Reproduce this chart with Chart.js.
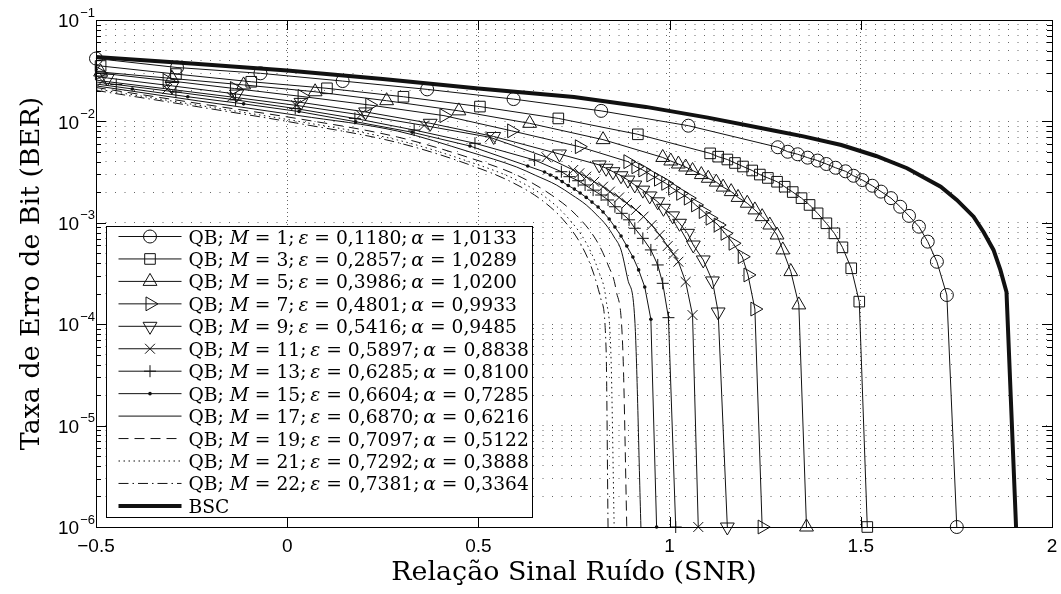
<!DOCTYPE html>
<html>
<head>
<meta charset="utf-8">
<script src="https://cdn.jsdelivr.net/npm/chart.js@4.4.1/dist/chart.umd.min.js"></script>
<style>
  html, body { margin: 0; padding: 0; background: #fff; overflow: hidden; }
</style>
</head>
<body>
<canvas id="berChart" width="1061" height="594"></canvas>
<script>
// BER versus SNR for the QB channel family and the BSC reference

const xTicks = [-0.5, 0, 0.5, 1, 1.5, 2];
const yTickExponents = [-6, -5, -4, -3, -2, -1];
const yMantissas = [1, 2, 3, 4, 5, 6, 7, 8, 9];

const qbM = [1, 3, 5, 7, 9, 11, 13, 15, 17, 19, 21, 22];
const qbEps = ['0,1180', '0,2857', '0,3986', '0,4801', '0,5416', '0,5897', '0,6285', '0,6604', '0,6870', '0,7097', '0,7292', '0,7381'];
const qbAlpha = ['1,0133', '1,0289', '1,0200', '0,9933', '0,9485', '0,8838', '0,8100', '0,7285', '0,6216', '0,5122', '0,3888', '0,3364'];

const snrM1 = [-0.5, -0.288, -0.07, 0.145, 0.366, 0.592, 0.821, 1.049, 1.283, 1.309, 1.335, 1.361, 1.387, 1.41, 1.434, 1.46, 1.481, 1.504, 1.53, 1.553, 1.579, 1.603, 1.626, 1.652, 1.675, 1.699, 1.725, 1.751];
const berM1 = [0.0417, 0.034, 0.0298, 0.025, 0.0207, 0.0166, 0.0127, 0.00907, 0.00556, 0.00502, 0.00474, 0.00439, 0.00411, 0.0038, 0.00349, 0.00322, 0.00291, 0.00264, 0.00232, 0.00203, 0.00175, 0.00144, 0.00117, 0.000916, 0.000652, 0.000413, 0.000194, 0.000001];

const snrM3 = [-0.5, -0.488, -0.291, -0.094, 0.104, 0.304, 0.504, 0.709, 0.917, 1.106, 1.127, 1.151, 1.171, 1.192, 1.216, 1.236, 1.257, 1.281, 1.301, 1.322, 1.345, 1.366, 1.387, 1.41, 1.431, 1.452, 1.475, 1.496, 1.517];
const berM3 = [0.0356, 0.0352, 0.0293, 0.0246, 0.0212, 0.0175, 0.014, 0.0107, 0.00746, 0.00484, 0.00449, 0.00421, 0.00389, 0.00359, 0.00328, 0.00299, 0.00277, 0.00254, 0.00227, 0.00201, 0.00175, 0.0015, 0.00124, 0.000989, 0.000787, 0.000573, 0.000356, 0.000167, 0.000001];

const snrM5 = [-0.5, -0.488, -0.301, -0.114, 0.073, 0.26, 0.449, 0.634, 0.826, 0.982, 1.003, 1.023, 1.042, 1.06, 1.083, 1.101, 1.122, 1.14, 1.161, 1.179, 1.203, 1.223, 1.242, 1.262, 1.281, 1.296, 1.317, 1.338, 1.358];
const berM5 = [0.031, 0.0307, 0.0265, 0.0229, 0.0196, 0.016, 0.0127, 0.00957, 0.00661, 0.00441, 0.00407, 0.0038, 0.00355, 0.00328, 0.00299, 0.00275, 0.00252, 0.00225, 0.00203, 0.00178, 0.00156, 0.00134, 0.00115, 0.000951, 0.000758, 0.00054, 0.00033, 0.000155, 0.000001];

const snrM7 = [-0.5, -0.491, -0.314, -0.138, 0.039, 0.216, 0.41, 0.587, 0.764, 0.891, 0.912, 0.93, 0.951, 0.971, 0.99, 1.008, 1.029, 1.049, 1.068, 1.088, 1.106, 1.127, 1.145, 1.166, 1.19, 1.205, 1.223, 1.242];
const berM7 = [0.0303, 0.03, 0.0253, 0.0211, 0.0176, 0.0145, 0.0114, 0.00807, 0.00563, 0.00401, 0.00357, 0.00332, 0.00296, 0.00269, 0.00245, 0.00219, 0.00195, 0.00175, 0.0015, 0.00129, 0.00111, 0.000951, 0.000787, 0.000628, 0.000463, 0.000306, 0.000141, 0.000001];

const snrM9 = [-0.5, -0.47, -0.301, -0.132, 0.036, 0.205, 0.374, 0.54, 0.712, 0.816, 0.834, 0.852, 0.873, 0.891, 0.909, 0.93, 0.948, 0.969, 0.984, 1.008, 1.026, 1.047, 1.062, 1.088, 1.112, 1.127, 1.151];
const berM9 = [0.0277, 0.0268, 0.0224, 0.0186, 0.0154, 0.0124, 0.00958, 0.0071, 0.00477, 0.00372, 0.00345, 0.00319, 0.00291, 0.00264, 0.00236, 0.0021, 0.00184, 0.00161, 0.00139, 0.00117, 0.000989, 0.000787, 0.000604, 0.00043, 0.000267, 0.000132, 0.000001];

const snrM11 = [-0.5, -0.483, -0.314, -0.145, 0.023, 0.192, 0.358, 0.53, 0.678, 0.748, 0.764, 0.782, 0.803, 0.826, 0.844, 0.868, 0.888, 0.912, 0.932, 0.953, 0.974, 0.995, 1.01, 1.023, 1.042, 1.06, 1.075];
const berM11 = [0.0256, 0.025, 0.0209, 0.0174, 0.0144, 0.0116, 0.00912, 0.00697, 0.00443, 0.00332, 0.00308, 0.00285, 0.00254, 0.00227, 0.00203, 0.00178, 0.00156, 0.00134, 0.00115, 0.000951, 0.000758, 0.00059, 0.000492, 0.000413, 0.000261, 0.000123, 0.000001];

const snrM13 = [-0.5, -0.447, -0.291, -0.135, 0.021, 0.177, 0.332, 0.491, 0.647, 0.717, 0.738, 0.761, 0.779, 0.8, 0.821, 0.839, 0.857, 0.875, 0.894, 0.909, 0.93, 0.951, 0.969, 0.982, 0.997, 1.016];
const berM13 = [0.0245, 0.0231, 0.0195, 0.0163, 0.0134, 0.0107, 0.00822, 0.00608, 0.00416, 0.00319, 0.00285, 0.0026, 0.00236, 0.0021, 0.00188, 0.00168, 0.00144, 0.00124, 0.00107, 0.000883, 0.000703, 0.00054, 0.000384, 0.000253, 0.000116, 0.000001];

const snrM15 = [-0.5, -0.405, -0.26, -0.114, 0.031, 0.179, 0.327, 0.478, 0.629, 0.673, 0.688, 0.704, 0.719, 0.735, 0.751, 0.766, 0.782, 0.797, 0.813, 0.826, 0.842, 0.857, 0.873, 0.888, 0.904, 0.919, 0.935, 0.951, 0.966];
const berM15 = [0.0234, 0.0209, 0.0175, 0.0149, 0.0125, 0.00993, 0.00781, 0.00572, 0.00363, 0.00317, 0.00296, 0.00277, 0.00255, 0.00233, 0.00215, 0.00197, 0.00178, 0.0016, 0.00143, 0.00128, 0.00109, 0.000909, 0.000741, 0.00059, 0.00046, 0.000343, 0.000233, 0.000112, 0.000001];

const snrM17 = [-0.5, -0.231, 0.031, 0.288, 0.478, 0.6, 0.65, 0.704, 0.745, 0.782, 0.81, 0.834, 0.855, 0.873, 0.891, 0.909, 0.925];
const berM17 = [0.0224, 0.0159, 0.0114, 0.00804, 0.00499, 0.00355, 0.00293, 0.00236, 0.00188, 0.0015, 0.00119, 0.000951, 0.000724, 0.00054, 0.000273, 0.00011, 0.000001];

const snrM19 = [-0.5, -0.231, 0.031, 0.288, 0.478, 0.6, 0.691, 0.756, 0.808, 0.839, 0.86, 0.878, 0.888];
const berM19 = [0.0216, 0.015, 0.0106, 0.00702, 0.00436, 0.00296, 0.00188, 0.00119, 0.000676, 0.000384, 0.000217, 0.000052, 0.000001];

const snrM21 = [-0.5, -0.231, 0.031, 0.288, 0.478, 0.6, 0.678, 0.735, 0.782, 0.813, 0.834, 0.847, 0.855];
const berM21 = [0.0209, 0.0144, 0.00998, 0.00656, 0.00398, 0.00264, 0.00176, 0.00111, 0.000632, 0.000343, 0.000173, 0.0000444, 0.000001];

const snrM22 = [-0.5, -0.231, 0.031, 0.288, 0.478, 0.587, 0.665, 0.722, 0.769, 0.8, 0.821, 0.834, 0.839];
const berM22 = [0.0202, 0.0139, 0.00953, 0.00619, 0.00372, 0.00252, 0.00168, 0.00107, 0.000604, 0.000327, 0.000173, 0.0000557, 0.000001];

const snrBSC = [-0.5, -0.25, 0, 0.25, 0.5, 0.75, 0.938, 1.1, 1.275, 1.35, 1.449, 1.54, 1.621, 1.709, 1.751, 1.795, 1.821, 1.847, 1.865, 1.881, 1.906];
const berBSC = [0.0432, 0.0372, 0.0318, 0.0262, 0.0211, 0.0174, 0.0139, 0.0109, 0.00809, 0.00712, 0.00585, 0.00456, 0.00345, 0.00227, 0.00168, 0.00115, 0.000811, 0.00054, 0.000343, 0.000208, 0.000001];

const INK = '#111';
const HOLLOW = 'rgba(0,0,0,0)';
const GRID = 'rgba(0,0,0,0.6)';

function curve(snr, ber, opts) {
  const r = opts.radius || 0;
  const skipFirst = !!opts.skipFirst;
  return {
    data: snr.map((x, i) => ({ x: x, y: ber[i] })),
    borderColor: INK,
    borderWidth: opts.width || 1,
    borderDash: opts.dash || [],
    tension: 0,
    cubicInterpolationMode: opts.smooth ? 'monotone' : 'default',
    clip: false,
    marker: opts.marker || null,
    markerRadius: r,
    markerRotation: opts.rotation || 0,
    markerFill: opts.fill || HOLLOW,
    pointStyle: opts.marker || false,
    pointRotation: opts.rotation || 0,
    pointRadius: c => (skipFirst && c.dataIndex === 0) ? 0 : r,
    pointBorderColor: INK,
    pointBackgroundColor: opts.fill || HOLLOW,
    pointBorderWidth: opts.fill ? 0 : 1,
    legendParts: opts.parts
  };
}

function qbParts(i) {
  return [
    ['QB; ', false], ['M', true], [' = ' + qbM[i] + ';\u2009', false],
    ['\u03b5', true], [' = ' + qbEps[i] + ';\u2009', false],
    ['\u03b1', true], [' = ' + qbAlpha[i], false]
  ];
}

const datasets = [
  curve(snrM1, berM1, { marker: 'circle', radius: 6.5, parts: qbParts(0) }),
  curve(snrM3, berM3, { marker: 'rect', radius: 7.5, skipFirst: true, parts: qbParts(1) }),
  curve(snrM5, berM5, { marker: 'triangle', radius: 8, skipFirst: true, parts: qbParts(2) }),
  curve(snrM7, berM7, { marker: 'triangle', radius: 8, rotation: 90, skipFirst: true, parts: qbParts(3) }),
  curve(snrM9, berM9, { marker: 'triangle', radius: 8, rotation: 180, skipFirst: true, parts: qbParts(4) }),
  curve(snrM11, berM11, { marker: 'crossRot', radius: 7, skipFirst: true, parts: qbParts(5) }),
  curve(snrM13, berM13, { marker: 'cross', radius: 6, skipFirst: true, parts: qbParts(6) }),
  curve(snrM15, berM15, { marker: 'circle', radius: 1.8, fill: INK, skipFirst: true, parts: qbParts(7) }),
  curve(snrM17, berM17, { smooth: true, parts: qbParts(8) }),
  curve(snrM19, berM19, { smooth: true, dash: [10, 6], parts: qbParts(9) }),
  curve(snrM21, berM21, { smooth: true, dash: [1.5, 3.5], parts: qbParts(10) }),
  curve(snrM22, berM22, { smooth: true, dash: [10, 4, 1.5, 4], parts: qbParts(11) }),
  curve(snrBSC, berBSC, { width: 4, parts: [['BSC', false]] })
];

// box, inside tick marks and the tick labels of both axes
const axesFrame = {
  id: 'axesFrame',
  afterDatasetsDraw(chart) {
    const { ctx, chartArea: a, scales: { x, y } } = chart;
    ctx.save();
    ctx.strokeStyle = '#000';
    ctx.lineWidth = 1;
    ctx.setLineDash([]);
    ctx.beginPath();
    y.ticks.forEach(t => {
      const py = Math.round(y.getPixelForValue(t.value)) + 0.5;
      const major = Math.abs(Math.log10(t.value) - Math.round(Math.log10(t.value))) < 1e-9;
      const len = major ? 10 : 5;
      ctx.moveTo(a.left, py); ctx.lineTo(a.left + len, py);
      ctx.moveTo(a.right, py); ctx.lineTo(a.right - len, py);
    });
    x.ticks.forEach(t => {
      const px = Math.round(x.getPixelForValue(t.value)) + 0.5;
      ctx.moveTo(px, a.bottom); ctx.lineTo(px, a.bottom - 10);
      ctx.moveTo(px, a.top); ctx.lineTo(px, a.top + 10);
    });
    ctx.stroke();
    ctx.strokeRect(Math.round(a.left) + 0.5, Math.round(a.top) + 0.5,
      Math.round(a.right - a.left), Math.round(a.bottom - a.top));

    ctx.fillStyle = '#000';
    ctx.textBaseline = 'middle';

    ctx.textAlign = 'center';
    ctx.font = '19px "Liberation Sans"';
    xTicks.forEach(v => {
      ctx.fillText(String(v).replace('-', '\u2212'), x.getPixelForValue(v), a.bottom + 20);
    });

    ctx.textAlign = 'right';
    yTickExponents.forEach(k => {
      const py = y.getPixelForValue(Math.pow(10, k));
      const exp = '\u2212' + Math.abs(k);
      ctx.font = '13px "Liberation Sans"';
      const ew = ctx.measureText(exp).width;
      ctx.fillText(exp, a.left - 1, py - 7);
      ctx.font = '19px "Liberation Sans"';
      ctx.fillText('10', a.left - 2 - ew, py + 2);
    });
    ctx.restore();
  }
};

// legend box drawn inside the plot, lower left
const insideLegend = {
  id: 'insideLegend',
  afterDraw(chart) {
    const { ctx, chartArea: a } = chart;
    const left = Math.round(a.left + 10) + 0.5;
    const top = Math.round(a.top + 206) + 0.5;
    const width = 426, height = 291, rowGap = 22.45;
    ctx.save();
    ctx.fillStyle = '#fff';
    ctx.fillRect(left, top, width, height);
    ctx.strokeStyle = '#000';
    ctx.lineWidth = 1;
    ctx.setLineDash([]);
    ctx.strokeRect(left, top, width, height);

    chart.data.datasets.forEach((ds, i) => {
      const cy = top + 10 + i * rowGap;
      ctx.strokeStyle = ds.borderColor;
      ctx.lineWidth = ds.borderWidth;
      ctx.setLineDash(ds.borderDash);
      ctx.beginPath();
      ctx.moveTo(left + 12, cy);
      ctx.lineTo(left + 75, cy);
      ctx.stroke();
      ctx.setLineDash([]);
      if (ds.marker) {
        ctx.lineWidth = 1;
        ctx.strokeStyle = INK;
        ctx.fillStyle = ds.markerFill;
        Chart.helpers.drawPoint(ctx, {
          pointStyle: ds.marker, rotation: ds.markerRotation,
          radius: ds.markerRadius, borderWidth: ds.markerFill === HOLLOW ? 1 : 0
        }, left + 43.5, cy);
      }
      let tx = left + 82;
      ctx.fillStyle = '#000';
      ctx.textAlign = 'left';
      ctx.textBaseline = 'alphabetic';
      ds.legendParts.forEach(([txt, italic]) => {
        ctx.font = (italic ? 'italic ' : '') + '18.7px "DejaVu Serif"';
        ctx.fillText(txt, tx, cy + 7);
        tx += ctx.measureText(txt).width;
      });
    });
    ctx.restore();
  }
};

new Chart(document.getElementById('berChart').getContext('2d'), {
  type: 'line',
  data: { datasets: datasets },
  options: {
    responsive: false,
    animation: false,
    events: [],
    layout: { padding: { top: 20, right: 2, left: 0, bottom: 0 } },
    plugins: { legend: { display: false }, tooltip: { enabled: false } },
    scales: {
      x: {
        type: 'linear',
        min: -0.5,
        max: 2,
        afterBuildTicks: s => { s.ticks = xTicks.map(v => ({ value: v })); },
        afterFit: s => { s.height = 67; },
        ticks: { display: false },
        grid: { color: GRID, lineWidth: 1, drawTicks: false },
        border: { display: false, dash: [1, 3] },
        title: {
          display: true,
          text: 'Relação Sinal Ruído (SNR)',
          color: '#000',
          font: { family: 'DejaVu Serif', size: 26.9 },
          padding: { top: 0, bottom: 5 }
        }
      },
      y: {
        type: 'logarithmic',
        min: 1e-6,
        max: 1e-1,
        afterBuildTicks: s => {
          const t = [];
          yTickExponents.forEach(k => yMantissas.forEach(m => {
            const v = m * Math.pow(10, k);
            if (v <= 0.1 + 1e-12) t.push({ value: v });
          }));
          s.ticks = t;
        },
        afterFit: s => { s.width = 96; },
        ticks: { display: false },
        grid: { color: GRID, lineWidth: 1, drawTicks: false },
        border: { display: false, dash: [1, 8.5] },
        title: {
          display: true,
          text: 'Taxa de Erro de Bit (BER)',
          color: '#000',
          font: { family: 'DejaVu Serif', size: 26.9 },
          padding: { top: 16, bottom: 0 }
        }
      }
    }
  },
  plugins: [axesFrame, insideLegend]
});
</script>
</body>
</html>
